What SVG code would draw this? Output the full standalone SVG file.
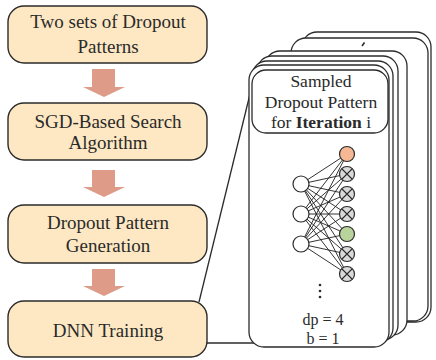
<svg xmlns="http://www.w3.org/2000/svg" width="436" height="360" viewBox="0 0 436 360">
<style>
.box{fill:#FDE8C3;stroke:#2b2b2b;stroke-width:1.4}
text{font-family:'Liberation Serif','Times New Roman',serif;fill:#2a2a2a;text-anchor:middle}
.big{font-size:19px}
.mid{font-size:17.5px}
.sm{font-size:16px}
.card{fill:#fff;stroke:#2b2b2b;stroke-width:1.3}
.arr{fill:#DE9C88}
.edge{stroke:#1e1e1e;stroke-width:0.9}
.in{fill:#fff;stroke:#2b2b2b;stroke-width:1.2}
.out{stroke:#2b2b2b;stroke-width:1.2}
.x{stroke:#2b2b2b;stroke-width:1.1}
.conn{stroke:#2b2b2b;stroke-width:1.3;fill:none}
</style>
<g id="connectors">
<path class="arr" d="M92,69 H115 V87 H125 L104,97 L83,87 H92 Z"/>
<path class="arr" d="M92,170 H115 V187 H125 L104,197 L83,187 H92 Z"/>
<path class="arr" d="M92,269 H115 V286 H125 L104,296 L83,286 H92 Z"/>
<line class="conn" x1="199" y1="302" x2="251" y2="90"/>
<line class="conn" x1="205" y1="343" x2="262" y2="343"/>
</g>
<g id="box1">
<rect class="box" x="8" y="6" width="199" height="57" rx="16"/>
<text class="big" x="108" y="28">Two sets of Dropout</text>
<text class="big" x="108" y="53">Patterns</text>
</g>
<g id="box2">
<rect class="box" x="8" y="103" width="199" height="57" rx="16"/>
<text class="big" x="108" y="128">SGD-Based Search</text>
<text class="big" x="108" y="149">Algorithm</text>
</g>
<g id="box3">
<rect class="box" x="8" y="205" width="199" height="58" rx="16"/>
<text class="big" x="108" y="229">Dropout Pattern</text>
<text class="big" x="108" y="252">Generation</text>
</g>
<g id="box4">
<rect class="box" x="8" y="301" width="199" height="56" rx="16"/>
<text class="big" x="108" y="337">DNN Training</text>
</g>
<g id="stack">
<rect class="card" x="302" y="32" width="129" height="290" rx="15"/>
<rect class="card" x="291" y="38" width="137" height="283" rx="15"/>
<line class="conn" x1="362" y1="46" x2="364.5" y2="42.5" style="stroke-width:1.6"/>
<rect class="card" x="265" y="51" width="142" height="284" rx="15"/>
<rect class="card" x="257" y="56" width="141" height="284" rx="15"/>
<rect class="card" x="252" y="61" width="141" height="282" rx="15"/>
<rect class="card" x="249" y="65" width="140" height="282" rx="15"/>
</g>
<g id="label">
<rect class="card" x="252" y="70" width="136" height="63" rx="14"/>
<text class="mid" x="321" y="87">Sampled</text>
<text class="mid" x="321" y="108">Dropout Pattern</text>
<text class="mid" x="321" y="128">for <tspan font-weight="bold">Iteration</tspan> i</text>
</g>
<g id="network">
<g class="edge">
<path d="M301,184 L347,154 M301,184 L347,174 M301,184 L347,194 M301,184 L347,214 M301,184 L347,234 M301,184 L347,254 M301,184 L347,274"/>
<path d="M301,214 L347,154 M301,214 L347,174 M301,214 L347,194 M301,214 L347,214 M301,214 L347,234 M301,214 L347,254 M301,214 L347,274"/>
<path d="M301,244 L347,154 M301,244 L347,174 M301,244 L347,194 M301,244 L347,214 M301,244 L347,234 M301,244 L347,254 M301,244 L347,274"/>
</g>
<circle class="in" cx="301" cy="184" r="8"/>
<circle class="in" cx="301" cy="214" r="8"/>
<circle class="in" cx="301" cy="244" r="8"/>
<circle class="out" cx="347" cy="154" r="7.5" fill="#F6B894"/>
<circle class="out" cx="347" cy="174" r="7.5" fill="#D9D9D9"/>
<circle class="out" cx="347" cy="194" r="7.5" fill="#D9D9D9"/>
<circle class="out" cx="347" cy="214" r="7.5" fill="#D9D9D9"/>
<circle class="out" cx="347" cy="234" r="7.5" fill="#B8D49C"/>
<circle class="out" cx="347" cy="254" r="7.5" fill="#D9D9D9"/>
<circle class="out" cx="347" cy="274" r="7.5" fill="#D9D9D9"/>
<path class="x" d="M342,169 L352,179 M352,169 L342,179 M342,189 L352,199 M352,189 L342,199 M342,209 L352,219 M352,209 L342,219 M342,249 L352,259 M352,249 L342,259 M342,269 L352,279 M352,269 L342,279"/>
<circle cx="320" cy="285" r="1.3" fill="#2b2b2b"/>
<circle cx="320" cy="291" r="1.3" fill="#2b2b2b"/>
<circle cx="320" cy="297" r="1.3" fill="#2b2b2b"/>
</g>
<g id="params">
<text class="sm" x="323" y="325">dp = 4</text>
<text class="sm" x="323" y="344">b = 1</text>
</g>
</svg>
